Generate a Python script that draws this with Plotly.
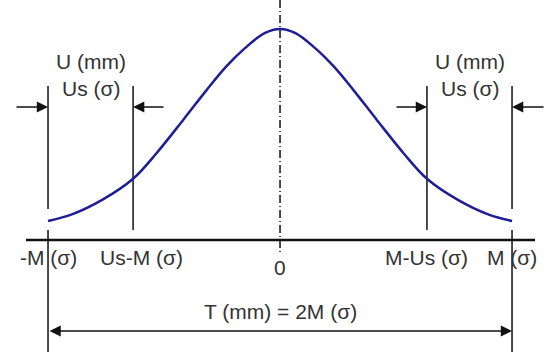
import plotly.graph_objects as go

# tolerance values in sigma units
M = 3.0
US = 1.1

# bell curve (x in sigma, height relative to the peak)
curve_x = [-3.0, -2.7, -2.3, -1.9, -1.6, -1.25, -0.95, -0.7, -0.45, -0.2, 0.0,
           0.2, 0.45, 0.7, 0.95, 1.25, 1.6, 1.9, 2.3, 2.7, 3.0]
curve_y = [0.09, 0.12, 0.19, 0.29, 0.41, 0.57, 0.71, 0.82, 0.91, 0.98, 1.0,
           0.98, 0.91, 0.82, 0.71, 0.57, 0.41, 0.29, 0.19, 0.12, 0.09]

tick_pos = [-M, US - M, 0, M - US, M]
tick_text = ['-M (σ)', 'Us-M (σ)', '0', 'M-Us (σ)', 'M (σ)']

LINE = '#111111'
TEXT = '#333333'
FONT = 'Liberation Sans, Arial, sans-serif'
FS = 21

fig = go.Figure()

# baseline
fig.add_trace(go.Scatter(x=[-3.285, 3.297], y=[0, 0], mode='lines',
                         line=dict(color=LINE, width=2.5), hoverinfo='skip'))

# limit lines at -M and M (broken where the curve ends)
for s in (-1, 1):
    fig.add_trace(go.Scatter(x=[s * M, s * M, None, s * M, s * M],
                             y=[0.73, 0.147, None, 0.047, -0.53], mode='lines',
                             line=dict(color=LINE, width=1.5), hoverinfo='skip'))
    fig.add_trace(go.Scatter(x=[s * (M - US), s * (M - US)], y=[0.73, 0.047],
                             mode='lines', line=dict(color=LINE, width=1.5),
                             hoverinfo='skip'))

# centre line
fig.add_trace(go.Scatter(x=[0, 0], y=[1.137, -0.057], mode='lines',
                         line=dict(color=LINE, width=1.5, dash='8px,3px,1px,3px'),
                         hoverinfo='skip'))

# curve
fig.add_trace(go.Scatter(x=curve_x, y=curve_y, mode='lines',
                         line=dict(color='#1e1e96', width=2.5, shape='spline'),
                         hoverinfo='skip'))

# small arrows pointing at the U zones
for head, tail in [(-M, -M - 0.427), (US - M, US - M + 0.413),
                   (M - US, M - US - 0.413), (M, M + 0.427)]:
    fig.add_annotation(x=head, y=0.63, ax=tail, ay=0.63, axref='x', ayref='y',
                       text='', showarrow=True, arrowhead=2, arrowsize=1.6,
                       arrowwidth=1.4, arrowcolor=LINE, standoff=0)

# T double arrow
fig.add_annotation(x=M, y=-0.431, ax=-M, ay=-0.431, axref='x', ayref='y',
                   text='', showarrow=True, arrowhead=2, arrowside='end+start',
                   arrowsize=1.6, arrowwidth=1.4, arrowcolor=LINE, standoff=0)

# zone labels
for s in (-1, 1):
    xm = s * (M - US / 2)
    fig.add_annotation(x=xm, y=0.844, text='U (mm)', showarrow=False,
                       font=dict(size=FS, color=TEXT, family=FONT))
    fig.add_annotation(x=xm, y=0.716, text='Us (σ)', showarrow=False,
                       font=dict(size=FS, color=TEXT, family=FONT))

# axis labels
shifts = [0, 8, 0, 0, 0]
for pos, txt, dx in zip(tick_pos, tick_text, shifts):
    yy = -0.128 if txt == '0' else -0.081
    fig.add_annotation(x=pos, y=yy, text=txt, showarrow=False, xshift=dx,
                       font=dict(size=FS, color=TEXT, family=FONT))

fig.add_annotation(x=0, y=-0.341, text='T (mm) = 2M (σ)', showarrow=False,
                   font=dict(size=FS, color=TEXT, family=FONT))

fig.update_layout(
    width=550, height=354,
    margin=dict(l=0, r=0, t=0, b=0),
    showlegend=False,
    plot_bgcolor='white', paper_bgcolor='white',
    xaxis=dict(range=[-3.621, 3.491], visible=False, fixedrange=True),
    yaxis=dict(range=[-0.540, 1.137], visible=False, fixedrange=True),
)

fig.write_html("out.html", config={'displayModeBar': False},
               post_script="document.body.style.margin='0';")
